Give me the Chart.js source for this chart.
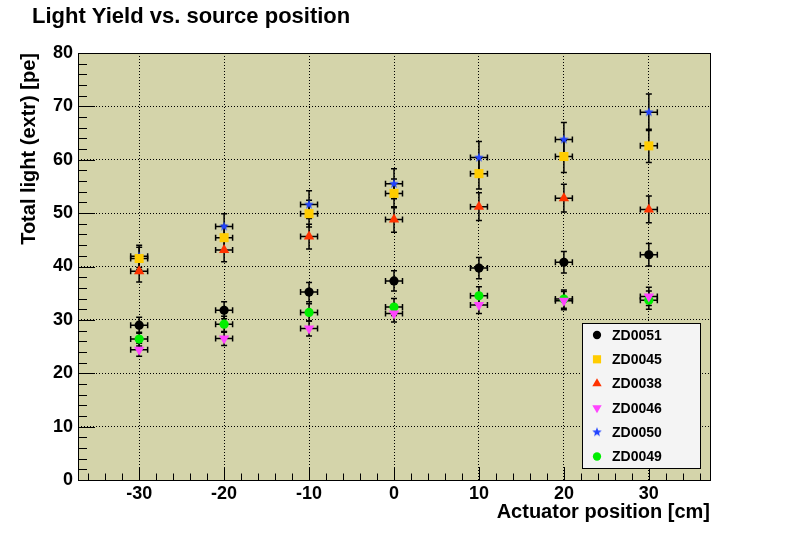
<!DOCTYPE html>
<html>
<head>
<meta charset="utf-8">
<script src="https://cdn.jsdelivr.net/npm/chart.js@4.4.0/dist/chart.umd.min.js"></script>
<style>
  html, body { margin: 0; padding: 0; background: #fff; }
</style>
</head>
<body>
<canvas id="c" width="789" height="534"></canvas>
<script>
// ===== Data =====
const positions = [-30, -20, -10, 0, 10, 20, 30];
const xErrors   = [1, 1, 1, 1, 1, 1, 1];

const zd0051 = [29.0, 31.8, 35.2, 37.3, 39.7, 40.8, 42.2];
const zd0045 = [41.5, 45.4, 49.9, 53.7, 57.4, 60.6, 62.6];
const zd0038 = [39.1, 43.1, 45.6, 48.8, 51.2, 52.8, 50.7];
const zd0046 = [24.4, 26.5, 28.4, 31.2, 32.8, 33.6, 34.4];
const zd0050 = [41.9, 47.5, 51.6, 55.5, 60.4, 63.8, 68.9];
const zd0049 = [26.4, 29.2, 31.4, 32.4, 34.5, 33.9, 33.7];

const err0051 = [1.5, 1.6, 1.8, 1.9, 2.0, 2.0, 2.1];
const err0045 = [2.1, 2.3, 2.5, 2.7, 2.9, 3.0, 3.1];
const err0038 = [2.0, 2.2, 2.3, 2.4, 2.6, 2.6, 2.5];
const err0046 = [1.2, 1.3, 1.4, 1.6, 1.6, 1.7, 1.7];
const err0050 = [2.1, 2.4, 2.6, 2.8, 3.0, 3.2, 3.4];
const err0049 = [1.3, 1.5, 1.6, 1.6, 1.7, 1.7, 1.7];

const xTicks = [-30, -20, -10, 0, 10, 20, 30];
const yTicks = [0, 10, 20, 30, 40, 50, 60, 70, 80];

const FONT = "'Liberation Sans', Arial, Helvetica, sans-serif";

// ===== Filled star marker (ROOT style 29) =====
function makeStar(color, r) {
  const size = Math.ceil(r * 2 + 2);
  const cv = document.createElement('canvas');
  cv.width = size; cv.height = size;
  const c = cv.getContext('2d');
  c.fillStyle = color;
  c.beginPath();
  for (let i = 0; i < 10; i++) {
    const rad = i % 2 === 0 ? r : r * 0.42;
    const a = -Math.PI / 2 + i * Math.PI / 5;
    const px = size / 2 + rad * Math.cos(a), py = size / 2 + rad * Math.sin(a);
    if (i === 0) c.moveTo(px, py); else c.lineTo(px, py);
  }
  c.closePath();
  c.fill();
  return cv;
}

function points(vals, errs) {
  return vals.map((v, i) => ({ x: positions[i], y: v, ex: xErrors[i], ey: errs[i] }));
}

const datasets = [
  { label: 'ZD0051', data: points(zd0051, err0051), pointStyle: 'circle',   pointRadius: 4.6, pointBackgroundColor: '#000000', pointRotation: 0 },
  { label: 'ZD0045', data: points(zd0045, err0045), pointStyle: 'rect',     pointRadius: 6.4, pointBackgroundColor: '#ffcc00', pointRotation: 0 },
  { label: 'ZD0038', data: points(zd0038, err0038), pointStyle: 'triangle', pointRadius: 6,   pointBackgroundColor: '#ff3300', pointRotation: 0 },
  { label: 'ZD0046', data: points(zd0046, err0046), pointStyle: 'triangle', pointRadius: 6,   pointBackgroundColor: '#ff44ff', pointRotation: 180 },
  { label: 'ZD0050', data: points(zd0050, err0050), pointStyle: makeStar('#2244ff', 5), pointRadius: 5, pointBackgroundColor: '#2244ff', pointRotation: 0 },
  { label: 'ZD0049', data: points(zd0049, err0049), pointStyle: 'circle',   pointRadius: 4.6, pointBackgroundColor: '#00ee00', pointRotation: 0 }
];
datasets.forEach(d => { d.pointBorderWidth = 0; d.pointBorderColor = d.pointBackgroundColor; d.showLine = false; });

// ===== ROOT-like decorations =====
const rootLook = {
  id: 'rootLook',
  beforeDraw(chart) {
    const { ctx, chartArea: a } = chart;
    ctx.save();
    ctx.fillStyle = '#d4d4aa';
    ctx.fillRect(a.left, a.top, a.right - a.left, a.bottom - a.top);
    ctx.restore();
  },
  beforeDatasetsDraw(chart) {
    // error bars with small end caps
    const { ctx, scales: { x, y } } = chart;
    ctx.save();
    ctx.strokeStyle = '#000';
    ctx.lineWidth = 1.5;
    chart.data.datasets.forEach(ds => {
      ds.data.forEach(p => {
        const px = x.getPixelForValue(p.x), py = y.getPixelForValue(p.y);
        const x0 = x.getPixelForValue(p.x - p.ex), x1 = x.getPixelForValue(p.x + p.ex);
        const y0 = y.getPixelForValue(p.y - p.ey), y1 = y.getPixelForValue(p.y + p.ey);
        const c = 3;
        ctx.beginPath();
        ctx.moveTo(x0, py); ctx.lineTo(x1, py);
        ctx.moveTo(px, y0); ctx.lineTo(px, y1);
        ctx.moveTo(x0, py - c); ctx.lineTo(x0, py + c);
        ctx.moveTo(x1, py - c); ctx.lineTo(x1, py + c);
        ctx.moveTo(px - c, y0); ctx.lineTo(px + c, y0);
        ctx.moveTo(px - c, y1); ctx.lineTo(px + c, y1);
        ctx.stroke();
      });
    });
    ctx.restore();
  },
  afterDatasetsDraw(chart) {
    // frame and inward ticks
    const { ctx, chartArea: a, scales: { x, y } } = chart;
    ctx.save();
    ctx.strokeStyle = '#000';
    ctx.lineWidth = 1;
    ctx.strokeRect(Math.round(a.left) + 0.5, Math.round(a.top) + 0.5,
                   Math.round(a.right - a.left), Math.round(a.bottom - a.top));
    ctx.beginPath();
    for (let v = -36; v <= 36; v += 2) {
      const px = Math.round(x.getPixelForValue(v)) + 0.5;
      const len = v % 10 === 0 ? 13 : 6.5;
      ctx.moveTo(px, a.bottom); ctx.lineTo(px, a.bottom - len);
    }
    for (let v = 0; v <= 80; v += 2) {
      const py = Math.round(y.getPixelForValue(v)) + 0.5;
      const len = v % 10 === 0 ? 17 : 9;
      ctx.moveTo(a.left, py); ctx.lineTo(a.left + len, py);
    }
    ctx.stroke();
    ctx.restore();
  },
  afterDraw(chart) {
    const { ctx } = chart;
    ctx.save();
    // title
    ctx.fillStyle = '#000';
    ctx.font = 'bold 22px ' + FONT;
    ctx.textBaseline = 'alphabetic';
    ctx.fillText('Light Yield vs. source position', 32, 23);

    // legend box
    const bx = 582, by = 323, bw = 118, bh = 145;
    ctx.fillStyle = '#f4f4f4';
    ctx.fillRect(bx, by, bw, bh);
    ctx.strokeStyle = '#000';
    ctx.lineWidth = 1;
    ctx.strokeRect(bx + 0.5, by + 0.5, bw, bh);

    ctx.font = 'bold 14px ' + FONT;
    ctx.textBaseline = 'middle';
    chart.data.datasets.forEach((ds, i) => {
      const ey = 335 + i * 24.3;
      ctx.fillStyle = ds.pointBackgroundColor;
      ctx.strokeStyle = ds.pointBackgroundColor;
      Chart.helpers.drawPoint(ctx, {
        pointStyle: ds.pointStyle, radius: ds.pointRadius * 0.9,
        rotation: ds.pointRotation, borderWidth: 0
      }, 597, ey);
      ctx.fillStyle = '#000';
      ctx.fillText(ds.label, 612, ey + 1);
    });
    ctx.restore();
  }
};

const tickFont = { family: FONT, size: 18, weight: 'bold' };
const titleFont = { family: FONT, size: 20, weight: 'bold' };

new Chart(document.getElementById('c'), {
  type: 'scatter',
  data: { datasets },
  options: {
    responsive: false,
    animation: false,
    devicePixelRatio: 1,
    events: [],
    layout: { padding: { left: 17, top: 53, right: 79, bottom: 10 } },
    plugins: { legend: { display: false }, tooltip: { enabled: false }, title: { display: false } },
    scales: {
      x: {
        type: 'linear', min: -37.2, max: 37.2,
        afterBuildTicks: s => { s.ticks = xTicks.map(v => ({ value: v })); },
        afterFit: s => { s.height = 44; },
        ticks: { font: tickFont, color: '#000', padding: 3, maxRotation: 0, autoSkip: false },
        grid: { color: '#000', lineWidth: 1, drawTicks: false },
        border: { display: false, dash: [1, 2] },
        title: { display: true, text: 'Actuator position [cm]', align: 'end', color: '#000', font: titleFont, padding: 0 }
      },
      y: {
        type: 'linear', min: 0, max: 80,
        afterBuildTicks: s => { s.ticks = yTicks.map(v => ({ value: v })); },
        afterFit: s => { s.width = 61; },
        ticks: { font: tickFont, color: '#000', padding: 5, autoSkip: false },
        grid: { color: '#000', lineWidth: 1, drawTicks: false },
        border: { display: false, dash: [1, 2] },
        title: { display: true, text: 'Total light (extr) [pe]', align: 'end', color: '#000', font: titleFont, padding: 0 }
      }
    }
  },
  plugins: [rootLook]
});
</script>
</body>
</html>
